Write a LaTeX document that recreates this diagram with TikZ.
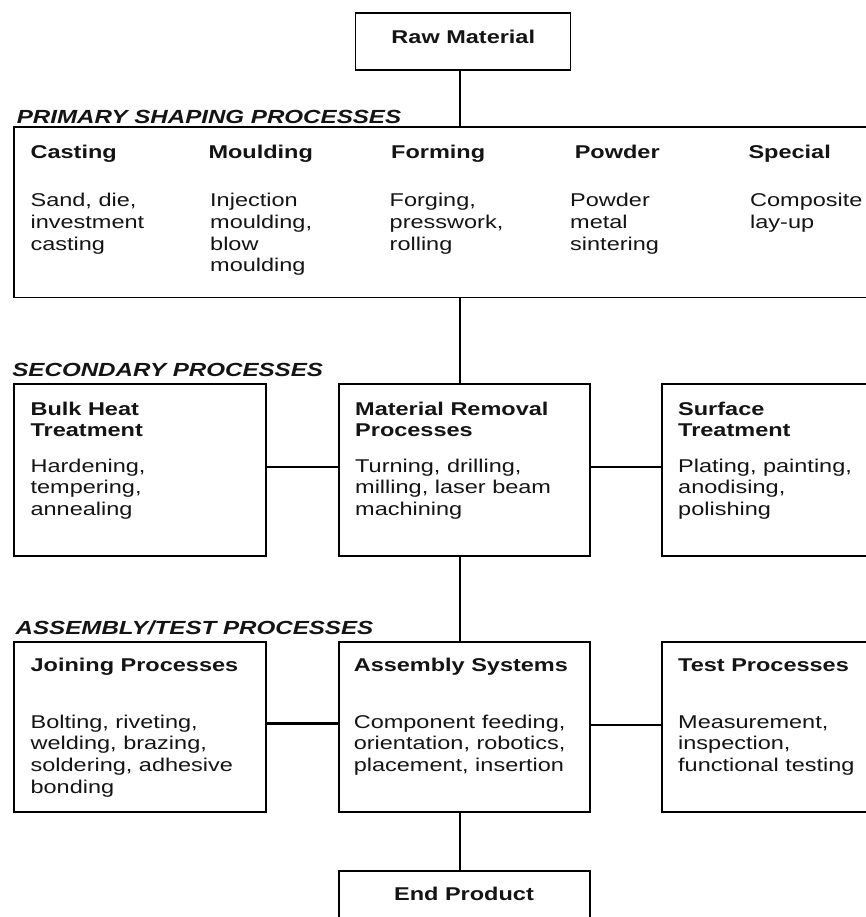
\documentclass[tikz,border=0pt]{standalone}
\usepackage{fontspec}
\setmainfont{Liberation Sans}[FakeStretch=1.27]
\newcommand\mlines[1]{\begin{tabular}[t]{@{}l@{}}#1\end{tabular}}
\begin{document}
\begin{tikzpicture}[x=1pt,y=-1pt,
  box/.style={draw=black,line width=1.8pt,rectangle,anchor=north west,inner sep=0pt,outer sep=0pt},
  conn/.style={draw=black,line width=2.8pt},
  head/.style={anchor=base west,inner sep=0pt,font=\fontsize{18.5}{21.7}\selectfont\bfseries,text=black!92},
  body/.style={anchor=base west,inner sep=0pt,font=\fontsize{18.5}{21.7}\selectfont,text=black!92},
  sect/.style={anchor=base west,inner sep=0pt,font=\fontsize{19}{22}\selectfont\bfseries\itshape,text=black!92},
  ctitle/.style={anchor=base,inner sep=0pt,font=\fontsize{18.5}{21.7}\selectfont\bfseries,text=black!92}]
\useasboundingbox[fill=white] (0,0) rectangle (866,917);
% boxes
\node[box,minimum width=215pt,minimum height=57pt] (raw) at (355.5,12.7) {};
\node[box,minimum width=900pt,minimum height=170.5pt] (prim) at (14,127) {};
\node[box,minimum width=252pt,minimum height=172pt] (bulk) at (14,384) {};
\node[box,minimum width=251pt,minimum height=172pt] (mat) at (339,384) {};
\node[box,minimum width=250pt,minimum height=172pt] (surf) at (662,384) {};
\node[box,minimum width=252pt,minimum height=170pt] (join) at (14,642) {};
\node[box,minimum width=251pt,minimum height=170pt] (asm) at (339,642) {};
\node[box,minimum width=250pt,minimum height=170pt] (test) at (662,642) {};
\node[box,minimum width=251pt,minimum height=80pt] (endp) at (339,871) {};
% connectors
\coordinate (cx) at (460,0);
\draw[conn] (raw.south -| cx) -- (prim.north -| cx);
\draw[conn] (prim.south -| cx) -- (mat.north -| cx);
\draw[conn] (mat.south -| cx) -- (asm.north -| cx);
\draw[conn] (asm.south -| cx) -- (endp.north -| cx);
\draw[conn] ([yshift=3pt]bulk.east) -- ([yshift=3pt]mat.west);
\draw[conn] ([yshift=3pt]mat.east) -- ([yshift=3pt]surf.west);
\draw[conn] ([yshift=3.5pt]join.east) -- ([yshift=3.5pt]asm.west);
\draw[conn] ([yshift=2pt]asm.east) -- ([yshift=2pt]test.west);
% titles
\node[ctitle] (rawt) at (463.3,43.3) {Raw Material};
\node[ctitle] (endt) at (464,900) {End Product};
% section labels
\node[sect] (l1) at (16.6,123.5) {PRIMARY SHAPING PROCESSES};
\node[sect] (l2) at (12.2,376) {SECONDARY PROCESSES};
\node[sect] (l3) at (15.5,634) {ASSEMBLY/TEST PROCESSES};
% primary columns
\node[head] (h1) at (30.4,158.3) {Casting};
\node[head] (h2) at (208.3,158.3) {Moulding};
\node[head] (h3) at (391,158.3) {Forming};
\node[head] (h4) at (574.6,158.3) {Powder};
\node[head] (h5) at (748.3,158.3) {Special};
\node[body] (b1) at (30.4,206.7) {\mlines{Sand, die,\\investment\\casting}};
\node[body] (b2) at (210,206.7) {\mlines{Injection\\moulding,\\blow\\moulding}};
\node[body] (b3) at (389.5,206.7) {\mlines{Forging,\\presswork,\\rolling}};
\node[body] (b4) at (570,206.7) {\mlines{Powder\\metal\\sintering}};
\node[body] (b5) at (750,206.7) {\mlines{Composite\\lay-up}};
% secondary
\node[head] (sh1) at (30.4,415) {\mlines{Bulk Heat\\Treatment}};
\node[head] (sh2) at (355,415) {\mlines{Material Removal\\Processes}};
\node[head] (sh3) at (678,415) {\mlines{Surface\\Treatment}};
\node[body] (sb1) at (30.4,472) {\mlines{Hardening,\\tempering,\\annealing}};
\node[body] (sb2) at (355,472) {\mlines{Turning, drilling,\\milling, laser beam\\machining}};
\node[body] (sb3) at (678,472) {\mlines{Plating, painting,\\anodising,\\polishing}};
% assembly
\node[head] (ah1) at (30.4,671.7) {Joining Processes};
\node[head] (ah2) at (353.6,671.7) {Assembly Systems};
\node[head] (ah3) at (678,671.7) {Test Processes};
\node[body] (ab1) at (30.4,728) {\mlines{Bolting, riveting,\\welding, brazing,\\soldering, adhesive\\bonding}};
\node[body] (ab2) at (353.6,728) {\mlines{Component feeding,\\orientation, robotics,\\placement, insertion}};
\node[body] (ab3) at (678,728) {\mlines{Measurement,\\inspection,\\functional testing}};
\end{tikzpicture}
\end{document}
